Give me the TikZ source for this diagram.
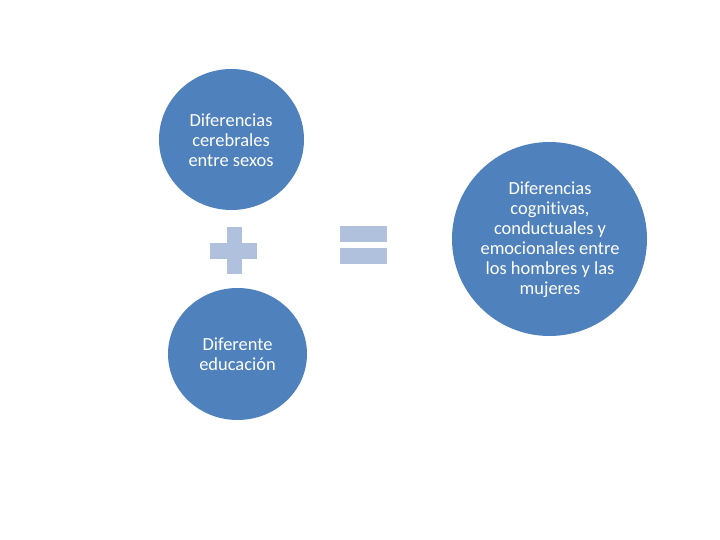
\documentclass[tikz,border=0pt]{standalone}
\usepackage{fontspec}
\usetikzlibrary{shapes.geometric}
\setmainfont{Carlito}[Ligatures={NoCommon}]
\definecolor{circblue}{HTML}{4F81BD}
\definecolor{signblue}{HTML}{B0C1DD}
\tikzset{
  bubble/.style={ellipse, fill=circblue, draw=none, inner sep=0pt},
  btext/.style={text=white, align=center, font=\fontsize{18.5}{20}\selectfont},
  signbar/.style={fill=signblue, draw=none}
}
\begin{document}
\begin{tikzpicture}[x=1bp,y=-1bp]
\useasboundingbox (0,0) rectangle (720,540);
% circles
\node[bubble, minimum width=145bp, minimum height=141bp] (c1) at (231.5,139.5) {};
\node[btext] (t1) at (231,140) {Diferencias\\cerebrales\\entre sexos};
\node[bubble, minimum width=139bp, minimum height=132bp] (c2) at (237.5,354) {};
\node[btext] (t2) at (237.5,354) {Diferente\\educación};
\node[bubble, minimum width=195bp, minimum height=194bp] (c3) at (549.5,239) {};
\node[btext] (t3) at (550,240) {Diferencias\\cognitivas,\\conductuales y\\emocionales entre\\los hombres y las\\mujeres};
% plus sign
\fill[signbar] (210,243) rectangle (257,259);
\fill[signbar] (227,227) rectangle (242,274);
% equal sign
\fill[signbar] (340,226) rectangle (387,242);
\fill[signbar] (340,248) rectangle (387,264);
\end{tikzpicture}
\end{document}
